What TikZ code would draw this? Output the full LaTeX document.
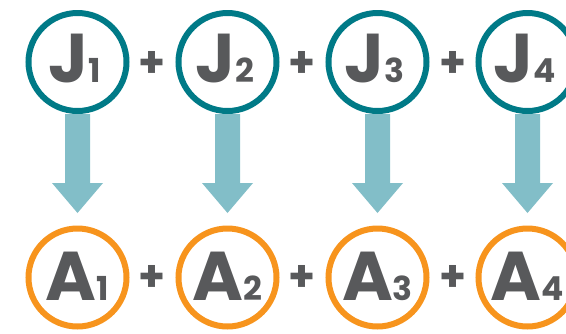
\documentclass[tikz,border=0pt]{standalone}
\usepackage{fontspec}
\setmainfont{Poppins}
\usetikzlibrary{calc}
\definecolor{ringteal}{HTML}{007A87}
\definecolor{ringorange}{HTML}{F7941D}
\definecolor{arrowteal}{HTML}{82BEC8}
\definecolor{txtgray}{HTML}{58595B}
\newcommand\jasub[2]{{\fontsize{69}{69}\selectfont #1}{\fontsize{33}{33}\selectfont #2}}
\begin{document}
\begin{tikzpicture}[x=1pt,y=-1pt,
  ring/.style={circle, line width=6pt, minimum size=98pt, inner sep=0pt, outer sep=0pt},
  jring/.style={ring, draw=ringteal},
  aring/.style={ring, draw=ringorange},
  lettr/.style={text=txtgray, inner sep=0pt, anchor=base, font=\bfseries},
  plussign/.style={text=txtgray, inner sep=0pt, font=\bfseries\fontsize{43}{43}\selectfont},
  downarrow/.style={fill=arrowteal}]
\useasboundingbox (0,0) rectangle (566,333);
\foreach \i in {1,...,4} {
  \node[jring] (j\i) at ({77.5+150*(\i-1)},62) {};
  \node[aring] (a\i) at ({77.5+150*(\i-1)},277.5) {};
}
\foreach \i in {1,...,4} {
  \fill[downarrow] ($(j\i.south)+(-12.5,3)$) -- ($(j\i.south)+(12.5,3)$)
    -- ($(a\i.north)+(12.5,-45.5)$) -- ($(a\i.north)+(25.5,-45.5)$)
    -- ($(a\i.north)+(0,-15.5)$) -- ($(a\i.north)+(-25.5,-45.5)$)
    -- ($(a\i.north)+(-12.5,-45.5)$) -- cycle;
  \node[lettr] (jt\i) at ($(j\i)+(-3,20)$) {\jasub{J}{\i}};
  \node[lettr] (at\i) at ($(a\i)+(0,22.5)$) {\jasub{A}{\i}};
}
\foreach \i/\k in {1/2,2/3,3/4} {
  \node[plussign] (pj\i) at ($(j\i)!0.5!(j\k)+(0,2)$) {+};
  \node[plussign] (pa\i) at ($(a\i)!0.5!(a\k)+(0,0.5)$) {+};
}
\end{tikzpicture}
\end{document}
